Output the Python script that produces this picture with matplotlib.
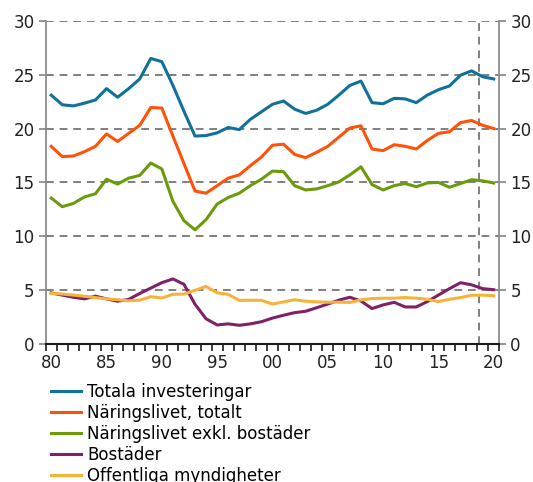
import matplotlib
matplotlib.use('Agg')
import matplotlib.pyplot as plt
from matplotlib import ticker

# data

years = list(range(1980, 2021))

totala = [23.1, 22.2, 22.1, 22.35, 22.65, 23.7, 22.9, 23.7, 24.6, 26.5,
          26.2, 24.0, 21.6, 19.3, 19.35, 19.6, 20.1, 19.9, 20.85, 21.55,
          22.25, 22.55, 21.8, 21.4, 21.7, 22.25, 23.1, 24.0, 24.4, 22.4,
          22.3, 22.8, 22.75, 22.4, 23.1, 23.6, 23.95, 24.95, 25.35, 24.8,
          24.6]
naringsliv = [18.35, 17.4, 17.45, 17.85, 18.35, 19.5, 18.8, 19.55, 20.3, 21.95,
              21.9, 19.3, 16.75, 14.2, 14.0, 14.7, 15.4, 15.7, 16.55, 17.35,
              18.45, 18.55, 17.6, 17.3, 17.8, 18.35, 19.2, 20.05, 20.25, 18.1,
              17.95, 18.5, 18.35, 18.1, 18.9, 19.55, 19.7, 20.55, 20.75, 20.3,
              20.0]
naringsliv_exkl = [13.55, 12.75, 13.05, 13.65, 13.95, 15.3, 14.85, 15.4, 15.65, 16.8,
                   16.25, 13.25, 11.45, 10.6, 11.55, 13.0, 13.6, 14.0, 14.7, 15.3,
                   16.05, 16.0, 14.7, 14.3, 14.4, 14.7, 15.05, 15.7, 16.45, 14.8,
                   14.3, 14.7, 14.9, 14.6, 14.95, 15.0, 14.55, 14.9, 15.25, 15.15,
                   14.95]
bostader = [4.75, 4.55, 4.35, 4.2, 4.45, 4.2, 3.98, 4.15, 4.7, 5.2,
            5.7, 6.05, 5.55, 3.7, 2.35, 1.78, 1.88, 1.75, 1.88, 2.08,
            2.42, 2.68, 2.92, 3.05, 3.38, 3.72, 4.08, 4.35, 4.0, 3.3,
            3.64, 3.88, 3.45, 3.45, 3.95, 4.55, 5.15, 5.7, 5.5, 5.15,
            5.05]
offentliga = [4.7, 4.65, 4.55, 4.45, 4.32, 4.2, 4.12, 4.02, 4.08, 4.4,
              4.28, 4.62, 4.64, 5.0, 5.35, 4.76, 4.62, 4.06, 4.07, 4.07,
              3.72, 3.92, 4.12, 3.98, 3.92, 3.89, 3.89, 3.87, 4.1, 4.23,
              4.26, 4.26, 4.32, 4.26, 4.16, 3.95, 4.16, 4.32, 4.54, 4.54,
              4.5]

labels = ['Totala investeringar',
          'Näringslivet, totalt',
          'Näringslivet exkl. bostäder',
          'Bostäder',
          'Offentliga myndigheter']
colors = ['#12719a', '#ff5208', '#6b9a0c', '#802168', '#f6b33c']

year_labels = ['80', '85', '90', '95', '00', '05', '10', '15', '20']
forecast_start = 2018.7


# plot

def plot_chart():
    plt.rcParams['font.family'] = 'DejaVu Sans'
    fig = plt.figure(figsize=(5.33, 4.82), dpi=100)
    ax = fig.add_axes([0.0857, 0.286, 0.851, 0.671])

    series = [totala, naringsliv, naringsliv_exkl, bostader, offentliga]
    for values, label, color in zip(series, labels, colors):
        ax.plot(years, values, color=color, linewidth=2.2, label=label, zorder=3)

    ax.set_xlim(1979.5, 2020.5)
    ax.set_ylim(0, 30)

    for y in range(5, 31, 5):
        ax.axhline(y, color='#7f7f7f', linestyle=(0, (4, 3)), linewidth=1.4, zorder=1)
    ax.axvline(forecast_start, color='#7f7f7f', linestyle=(0, (4, 3)), linewidth=1.4, zorder=1)

    ax.spines['top'].set_visible(False)
    ax.spines['left'].set_color('#8c8c8c')
    ax.spines['right'].set_color('#8c8c8c')
    ax.spines['left'].set_linewidth(1.3)
    ax.spines['right'].set_linewidth(1.3)
    ax.spines['bottom'].set_color('#1a1a1a')
    ax.spines['bottom'].set_linewidth(1.5)

    ax.yaxis.set_major_locator(ticker.MultipleLocator(5))
    ax.tick_params(axis='y', which='major', left=True, right=True, labelleft=True, labelright=True,
                   direction='out', length=5, width=1.3, color='#8c8c8c', labelsize=12,
                   labelcolor='#222222', pad=3)

    ax.set_xticks(list(range(1980, 2021, 5)))
    ax.set_xticklabels(year_labels)
    ax.xaxis.set_minor_locator(ticker.FixedLocator([y + 0.5 for y in range(1979, 2021)]))
    ax.tick_params(axis='x', which='major', length=0, labelsize=12, labelcolor='#222222', pad=7)
    ax.tick_params(axis='x', which='minor', direction='out', length=5, width=1.2, color='#1a1a1a')

    fig.legend(loc='upper left', bbox_to_anchor=(0.095, 0.205), frameon=False,
               fontsize=12, handlelength=1.8, handletextpad=0.4, labelspacing=0.17,
               borderpad=0, borderaxespad=0)

    fig.savefig('out.png', dpi=100)


if __name__ == '__main__':
    plot_chart()
